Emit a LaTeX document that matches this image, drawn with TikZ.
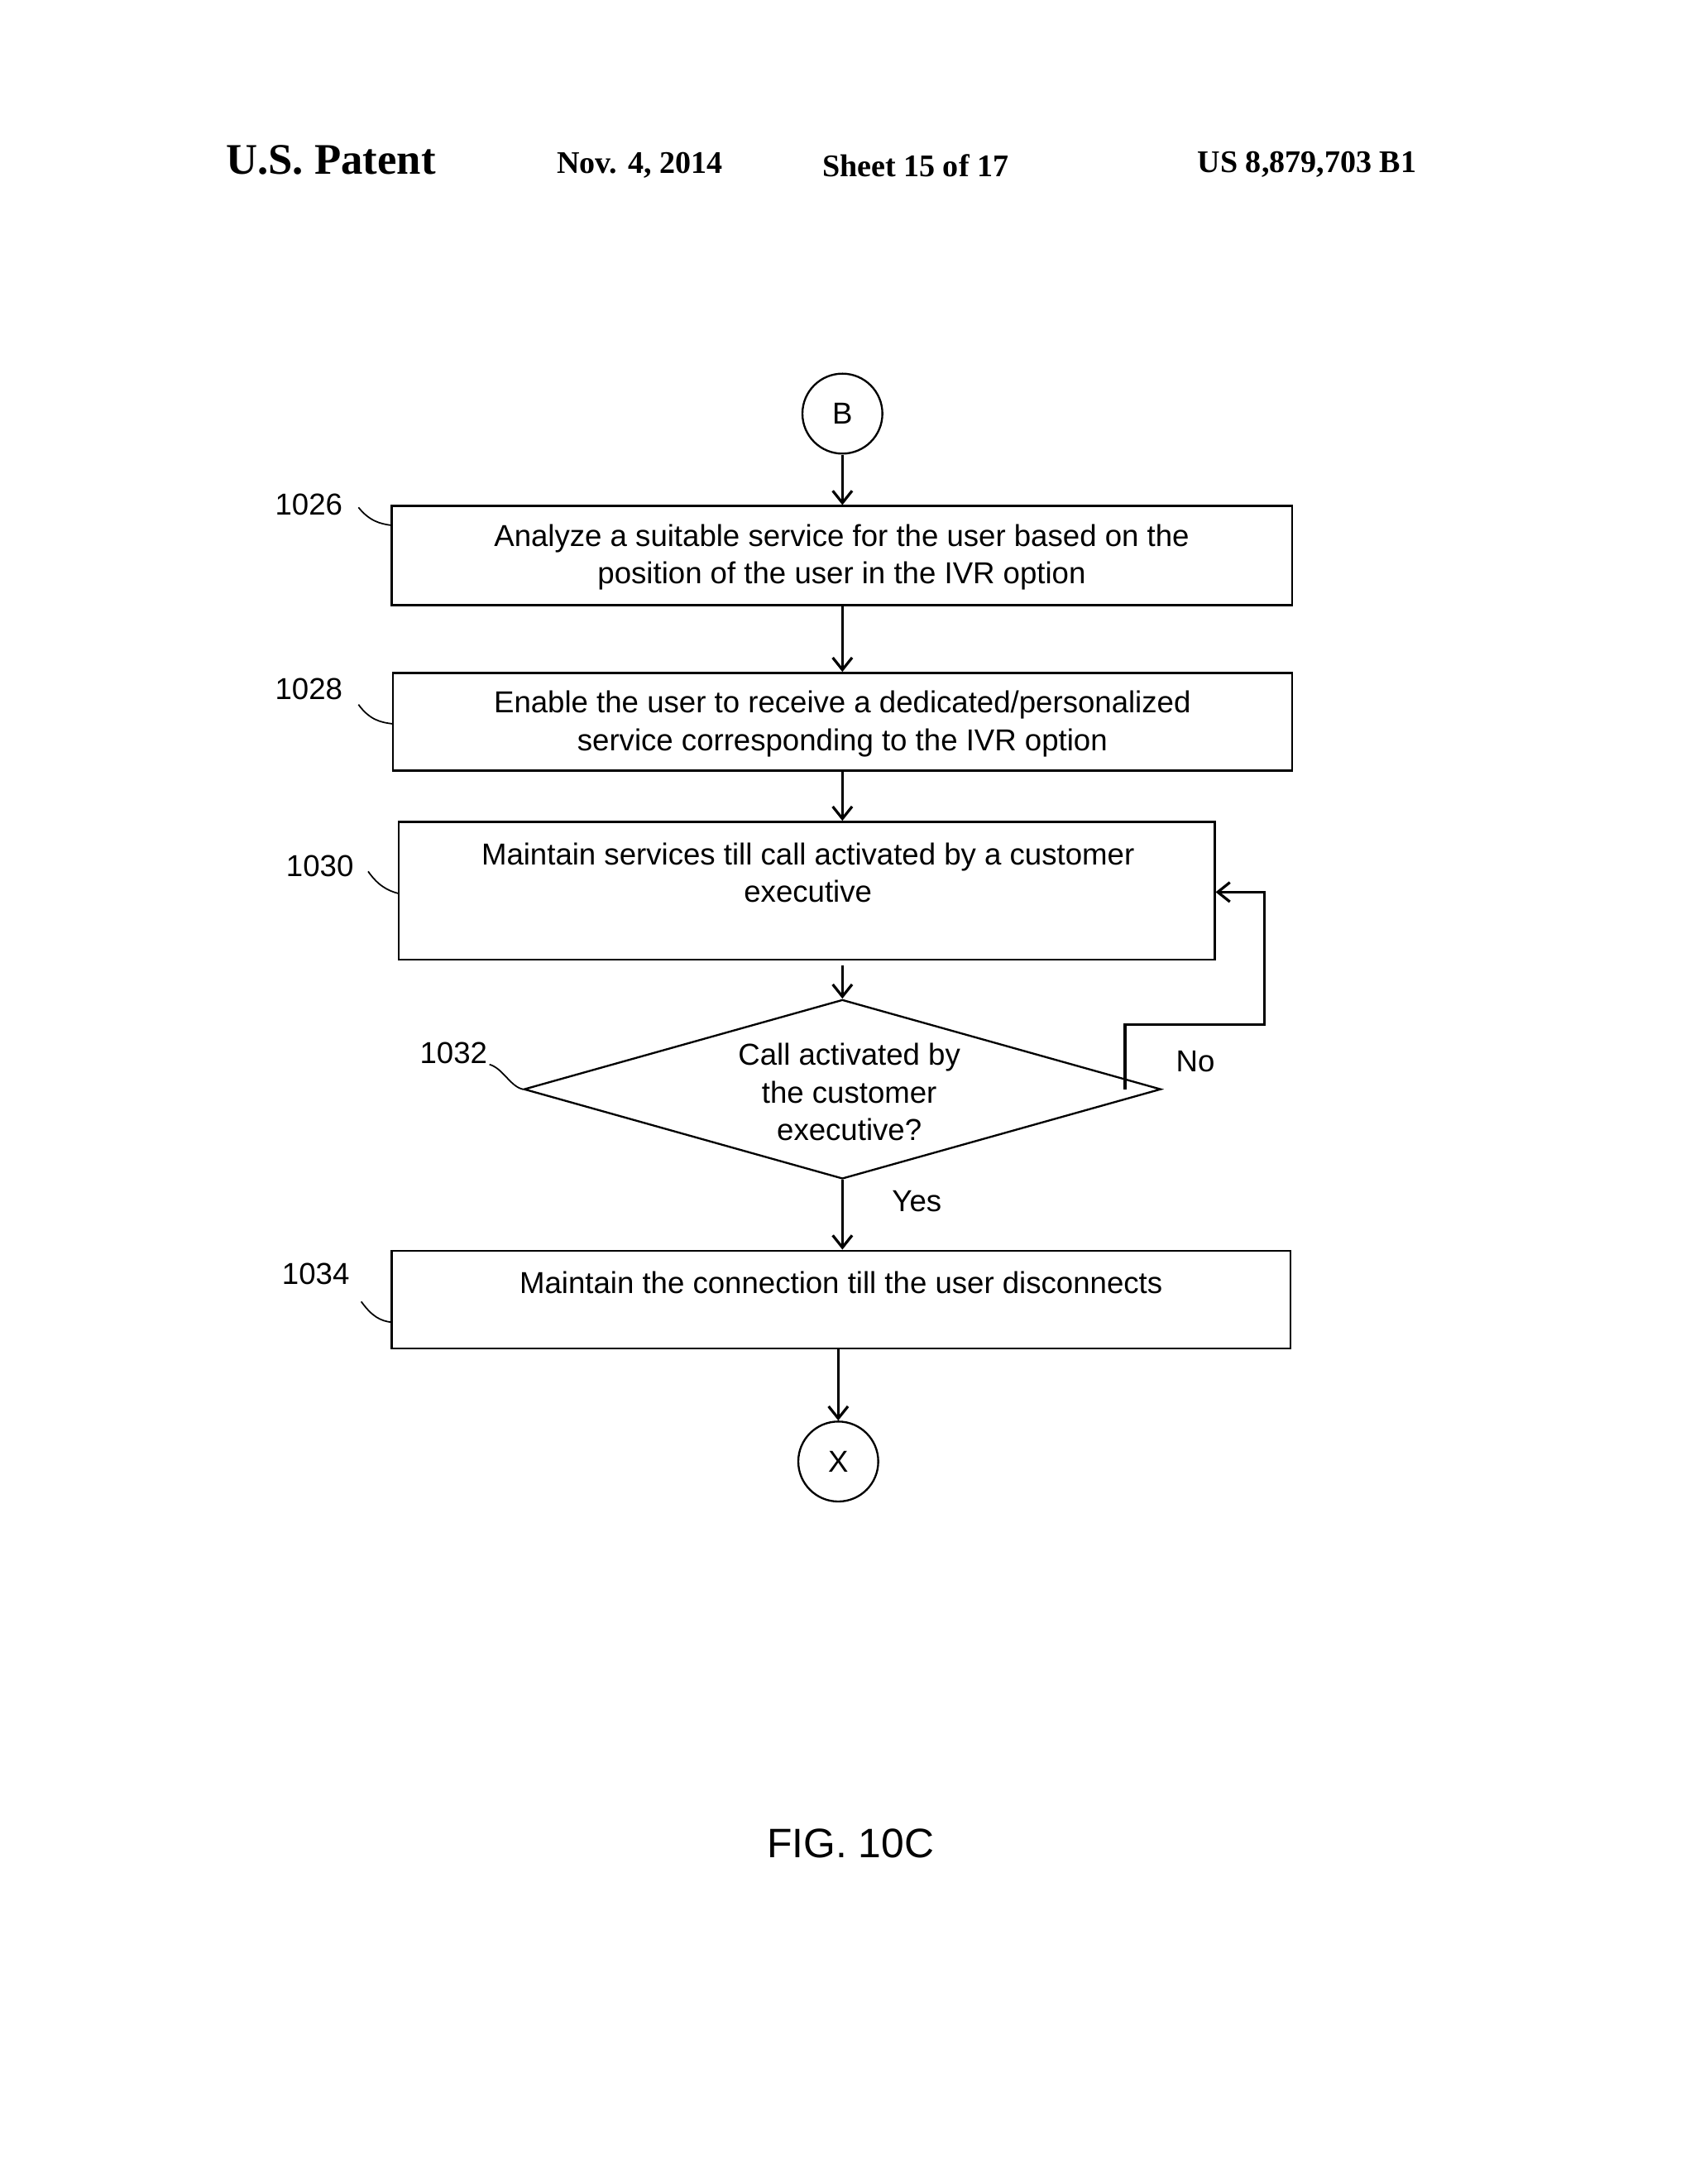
\documentclass[tikz,border=0pt]{standalone}
\usepackage{fontspec}
\setmainfont{Liberation Sans}
\newfontfamily\hdr{Liberation Serif}
\usetikzlibrary{shapes.geometric,arrows.meta}
\begin{document}
\begin{tikzpicture}[x=0.02cm,y=-0.02cm,
  box/.style={draw,line width=0.8pt,inner sep=0pt},
  txt/.style={font=\fontsize{12.5}{15.5}\selectfont,align=center},
  conn/.style={draw,line width=1.1pt,-{Straight Barb[length=5pt,width=8pt]}},
  lead/.style={draw,line width=0.6pt},
  ref/.style={font=\fontsize{12.5}{15}\selectfont}]
\useasboundingbox (0,0) rectangle (1228.8,1584);
% header
\node[font=\hdr\bfseries\fontsize{18}{20}\selectfont] (h1) at (240,116) {U.S. Patent};
\node[font=\hdr\bfseries\fontsize{13}{15}\selectfont] (h2) at (464,120) {Nov. 4, 2014};
\node[font=\hdr\bfseries\fontsize{13}{15}\selectfont] (h3) at (664,120) {Sheet 15 of 17};
\node[font=\hdr\bfseries\fontsize{13}{15}\selectfont] (h4) at (948,119) {US 8,879,703 B1};
% flow
\node[draw,circle,line width=0.8pt,minimum size=58*0.02cm,inner sep=0pt,txt] (B) at (611,300) {B};
\node[box,minimum width=653*0.02cm,minimum height=72*0.02cm] (b1) at (610.5,403) {};
\node[txt] (t1) at (610.5,404) {Analyze a suitable service for the user based on the\\position of the user in the IVR option};
\node[box,minimum width=652*0.02cm,minimum height=71*0.02cm] (b2) at (611,523.5) {};
\node[txt] (t2) at (611,525) {Enable the user to receive a dedicated/personalized\\service corresponding to the IVR option};
\node[box,minimum width=592*0.02cm,minimum height=100*0.02cm] (b3) at (585,646) {};
\node[txt] (t3) at (586,633) {Maintain services till call activated by a customer\\executive};
\node[draw,diamond,line width=0.8pt,minimum width=462*0.02cm,minimum height=130*0.02cm,inner sep=0pt,aspect=3.55] (d) at (611,790) {};
\node[txt] (td) at (616,792) {Call activated by\\the customer\\executive?};
\node[box,minimum width=652*0.02cm,minimum height=71*0.02cm] (b4) at (610,942.5) {};
\node[txt] (t4) at (610,930) {Maintain the connection till the user disconnects};
\node[draw,circle,line width=0.8pt,minimum size=58*0.02cm,inner sep=0pt,txt] (X) at (608,1060) {X};
% connectors
\draw[conn] (B) -- (b1.north -| B);
\draw[conn] (b1.south -| B) -- (b2.north -| B);
\draw[conn] (b2.south -| B) -- (b3.north -| B);
\coordinate (c3) at (611,700);
\draw[conn] (c3) -- (d.north);
\coordinate (n0) at (816,790);
\draw[conn] (n0) -- (816,743) -- (917,743) -- (917,647) -- (b3.east |- 0,647);
\node[txt] (no) at (867,770) {No};
\draw[conn] (d.south) -- (b4.north -| d);
\node[txt] (yes) at (665,871) {Yes};
\draw[conn] (b4.south -| X) -- (X);
% reference numerals
\node[ref] (r1) at (224,366) {1026};
\draw[lead] (260,368) .. controls (268,378) and (276,380) .. (284,381);
\node[ref] (r2) at (224,500) {1028};
\draw[lead] (260,511) .. controls (268,522) and (276,524) .. (285,525);
\node[ref] (r3) at (232,628) {1030};
\draw[lead] (267,632) .. controls (274,642) and (281,646) .. (289,648);
\node[ref] (r4) at (329,764) {1032};
\draw[lead] (355,772) .. controls (365,775) and (370,788) .. (d.west);
\node[ref] (r5) at (229,924) {1034};
\draw[lead] (262,944) .. controls (270,955) and (276,958) .. (284,959);
\node[font=\fontsize{17}{20}\selectfont] (fig) at (617,1337) {FIG. 10C};
\end{tikzpicture}
\end{document}
